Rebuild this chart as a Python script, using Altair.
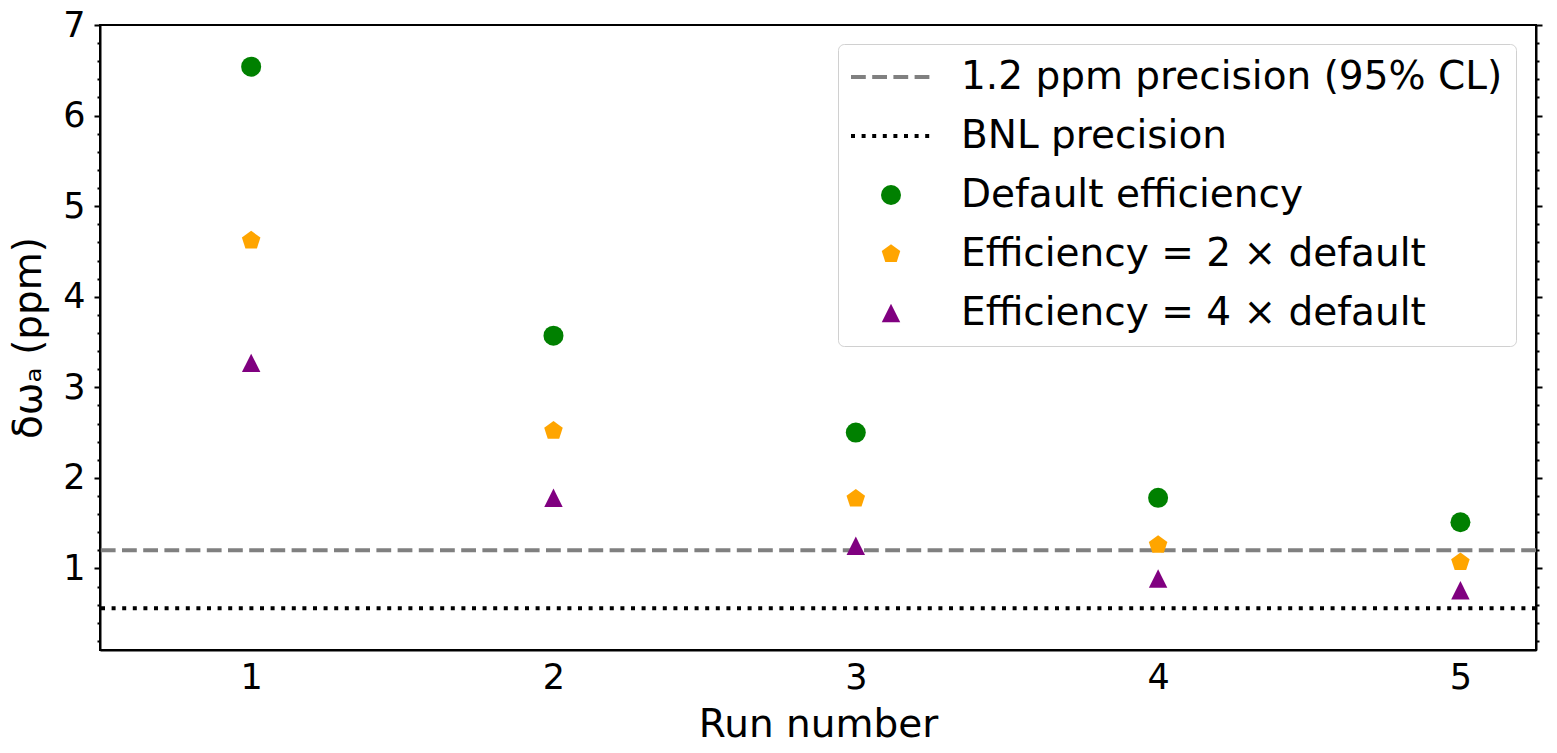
import altair as alt
import pandas as pd

runs = [1, 2, 3, 4, 5]
default_eff = [6.54, 3.57, 2.50, 1.78, 1.51]
eff_2x = [4.62, 2.52, 1.77, 1.26, 1.07]
eff_4x = [3.27, 1.78, 1.25, 0.89, 0.76]
target_precision = [1.2]
bnl_precision = [0.56]

labels = [
    "1.2 ppm precision (95% CL)",
    "BNL precision",
    "Default efficiency",
    "Efficiency = 2 \u00d7 default",
    "Efficiency = 4 \u00d7 default",
]

rows = []
for r, a, b, c in zip(runs, default_eff, eff_2x, eff_4x):
    rows.append({"run": r, "val": a, "series": labels[2]})
    rows.append({"run": r, "val": b, "series": labels[3]})
    rows.append({"run": r, "val": c, "series": labels[4]})
pts = pd.DataFrame(rows)

# legend symbol paths (normalized to [-1, 1]; 80px wide when size = 6400)
def dash_path(dash, gap, total=80.0, thick=4.0):
    u = 2.0 / total
    h = thick * u / 2
    segs = []
    x = 0.0
    while x < total - 1e-6:
        x2 = min(x + dash, total)
        a, b = -1 + x * u, -1 + x2 * u
        segs.append(f"M{a:.4f},{-h:.4f}H{b:.4f}V{h:.4f}H{a:.4f}Z")
        x += dash + gap
    return "".join(segs)

dashed_sym = dash_path(14.8, 6.4)
dotted_sym = dash_path(4.0, 6.6)
pentagon = "M0,-1L0.951,-0.309L0.588,0.809L-0.588,0.809L-0.951,-0.309Z"
tri_up = "M0,-1L1,1L-1,1Z"

colors = ["#808080", "#000000", "#008000", "#FFA500", "#800080"]
shapes = [dashed_sym, dotted_sym, "circle", pentagon, tri_up]
sizes = [6400, 6400, 400, 380, 340]

FONT = "DejaVu Sans"

y_vals = [round(0.2 * k, 1) for k in range(1, 36)]

xscale = alt.Scale(domain=[0.5, 5.25], nice=False, zero=False)
yscale = alt.Scale(domain=[0.1, 7], nice=False, zero=False)

tick_cond = {"condition": {"test": "abs(datum.value - round(datum.value)) < 0.001", "value": 6}, "value": 3}

left_axis = alt.Axis(
    values=y_vals,
    labelExpr="abs(datum.value - round(datum.value)) < 0.001 ? format(datum.value, 'd') : ''",
    tickSize=tick_cond,
    tickWidth=2,
    tickColor="black",
    labelFontSize=35,
    labelFont=FONT,
    labelColor="black",
    labelPadding=9,
    labelOverlap=False,
    title="\u03b4\u03c9\u2090 (ppm)",
    titleFontSize=39,
    titleFont=FONT,
    titleFontWeight="normal",
    titleColor="black",
    titlePadding=14,
    domainColor="black",
    domainWidth=2,
    grid=False,
    orient="left",
)

right_axis = alt.Axis(
    values=y_vals,
    labels=False,
    tickSize=tick_cond,
    tickWidth=2,
    tickColor="black",
    title=None,
    domainColor="black",
    domainWidth=2,
    grid=False,
    orient="right",
)

x_axis = alt.Axis(
    values=runs,
    ticks=False,
    tickSize=0,
    labelFontSize=35,
    labelFont=FONT,
    labelColor="black",
    labelPadding=10,
    labelAngle=0,
    title="Run number",
    titleFontSize=39,
    titleFont=FONT,
    titleFontWeight="normal",
    titleColor="black",
    titlePadding=10,
    domainColor="black",
    domainWidth=2,
    grid=False,
)

dashed = alt.Chart(pd.DataFrame({"v": target_precision})).mark_rule(
    color="#808080", strokeWidth=4, strokeDash=[14.8, 6.4]
).encode(y=alt.Y("v:Q", scale=yscale, axis=left_axis))

dotted = alt.Chart(pd.DataFrame({"v": bnl_precision})).mark_rule(
    color="black", strokeWidth=4, strokeDash=[4, 6.6]
).encode(y=alt.Y("v:Q", scale=yscale, axis=right_axis))

points = alt.Chart(pts).mark_point(filled=True, opacity=1, strokeWidth=0).encode(
    x=alt.X("run:Q", scale=xscale, axis=x_axis),
    y=alt.Y("val:Q", scale=yscale, axis=None),
    color=alt.Color(
        "series:N",
        scale=alt.Scale(domain=labels, range=colors),
        legend=alt.Legend(
            title=None,
            orient="none",
            legendX=738,
            legendY=19,
            labelFontSize=39,
            labelFont=FONT,
            labelColor="black",
            labelOffset=30,
            labelLimit=800,
            clipHeight=40,
            rowPadding=19,
            padding=13,
            fillColor="white",
            strokeColor="#d0d0d0",
            cornerRadius=6,
            symbolStrokeWidth=0,
            symbolOpacity=1,
        ),
    ),
    shape=alt.Shape("series:N", scale=alt.Scale(domain=labels, range=shapes)),
    size=alt.Size("series:N", scale=alt.Scale(type="ordinal", domain=labels, range=sizes)),
)

chart = alt.layer(dashed, dotted, points).resolve_axis(y="independent").properties(
    width=1436,
    height=625,
    background="white",
    autosize=alt.AutoSizeParams(type="none"),
    padding={"left": 92, "top": 17, "right": 13, "bottom": 95},
).configure_view(stroke="black", strokeWidth=2)

chart.save("out.html", embed_options={"renderer": "svg", "actions": False})
